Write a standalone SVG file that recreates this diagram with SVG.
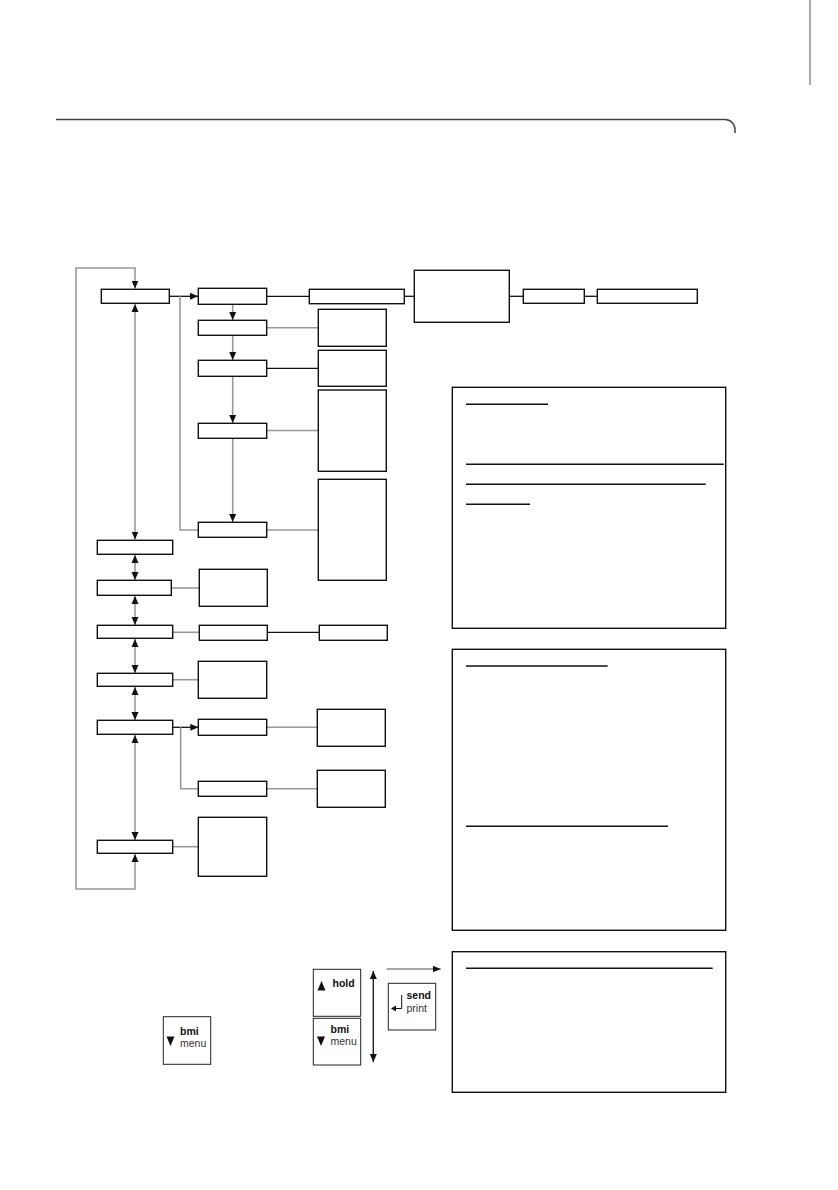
<svg xmlns="http://www.w3.org/2000/svg" width="838" height="1190" viewBox="0 0 838 1190">
<style>
.box{fill:#fff;stroke:#111;stroke-width:1.4}
.key{fill:#fff;stroke:#222;stroke-width:1}
.c{fill:none;stroke:#111;stroke-width:1.3}
.g{fill:none;stroke:#999;stroke-width:1.6}
.ul{stroke:#111;stroke-width:1.4}
.t{font-family:"Liberation Sans",Arial,sans-serif;font-size:10.5px;fill:#333}
.b{font-weight:bold;fill:#111}
</style>
<defs>
<marker id="ah" viewBox="0 0 8 8" markerUnits="userSpaceOnUse" markerWidth="8" markerHeight="8" refX="8" refY="4" orient="auto-start-reverse">
<path d="M0,0.5 L8,4 L0,7.5 z" fill="#111"/>
</marker>
</defs>
<rect width="838" height="1190" fill="#fff"/>
<line x1="810" y1="0" x2="810" y2="85" stroke="#555" stroke-width="1"/>
<path d="M56,119.5 H725 A10,10 0 0 1 735,129.5 V133" fill="none" stroke="#444" stroke-width="1.5"/>

<g id="connectors">
<path class="g" d="M135,854 V889 H76 V268 H135 V288.5" marker-start="url(#ah)" marker-end="url(#ah)"/>
<path class="g" d="M135,304 V539.5" marker-start="url(#ah)" marker-end="url(#ah)"/>
<path class="g" d="M135,555 V580" marker-start="url(#ah)" marker-end="url(#ah)"/>
<path class="g" d="M135,596 V625" marker-start="url(#ah)" marker-end="url(#ah)"/>
<path class="g" d="M135,639 V673" marker-start="url(#ah)" marker-end="url(#ah)"/>
<path class="g" d="M135,687 V720" marker-start="url(#ah)" marker-end="url(#ah)"/>
<path class="g" d="M135,735 V840" marker-start="url(#ah)" marker-end="url(#ah)"/>
<path class="c" d="M169,296.3 H198" marker-end="url(#ah)"/>
<path class="g" d="M180,296.3 V530 H198"/>
<path class="c" d="M266.7,296.3 H309.3"/>
<path class="c" d="M404.3,296.3 H414.3"/>
<path class="c" d="M509.3,296.3 H523.3"/>
<path class="c" d="M584.3,296.3 H597.3"/>
<path class="g" d="M232.7,304.5 V320" marker-end="url(#ah)"/>
<path class="g" d="M232.7,335.5 V360" marker-end="url(#ah)"/>
<path class="g" d="M232.7,376.5 V423" marker-end="url(#ah)"/>
<path class="g" d="M232.7,438.5 V522" marker-end="url(#ah)"/>
<path class="g" d="M266.7,327.8 H318.3"/>
<path class="c" d="M266.7,368.3 H318.3"/>
<path class="g" d="M266.7,430.5 H318.3"/>
<path class="g" d="M266.7,530 H318.3"/>
<path class="g" d="M171.3,588 H199.3"/>
<path class="g" d="M172.7,632.3 H199.3"/>
<path class="c" d="M267.3,632.3 H319.3"/>
<path class="g" d="M172.7,679.7 H198.3"/>
<path class="c" d="M172.7,727.3 H198.3" marker-end="url(#ah)"/>
<path class="g" d="M180.7,727.3 V788.7 H198.3"/>
<path class="g" d="M266.7,727.3 H317.3"/>
<path class="g" d="M266.7,788.7 H317.3"/>
<path class="g" d="M172.7,846.7 H198.3"/>
<path class="c" d="M373.3,971 V1062" marker-start="url(#ah)" marker-end="url(#ah)"/>
<path d="M386.7,969 H440.7" fill="none" stroke="#888" stroke-width="1.3" marker-end="url(#ah)"/>
</g>

<g id="nodeA"><rect class="box" x="101.3" y="289.3" width="68" height="14"/></g>
<g id="nodeB1"><rect class="box" x="198.3" y="288.3" width="68.4" height="16"/></g>
<g id="nodeC1"><rect class="box" x="309.3" y="289.3" width="95" height="14.4"/></g>
<g id="nodeD"><rect class="box" x="414.3" y="270.3" width="95" height="52"/></g>
<g id="nodeE"><rect class="box" x="523.3" y="289.3" width="61" height="14"/></g>
<g id="nodeF"><rect class="box" x="597.3" y="289.3" width="100" height="14"/></g>
<g id="nodeB2"><rect class="box" x="198.3" y="320.3" width="68.4" height="15"/></g>
<g id="nodeB3"><rect class="box" x="198.3" y="360.3" width="68.4" height="16"/></g>
<g id="nodeB4"><rect class="box" x="198.3" y="423.3" width="68.4" height="15"/></g>
<g id="nodeB5"><rect class="box" x="198.3" y="522.3" width="68.4" height="15"/></g>
<g id="nodeG1"><rect class="box" x="318.3" y="309.3" width="68" height="37"/></g>
<g id="nodeG2"><rect class="box" x="318.3" y="350.3" width="68" height="36"/></g>
<g id="nodeG3"><rect class="box" x="318.3" y="390" width="68" height="81.3"/></g>
<g id="nodeG4"><rect class="box" x="318.3" y="479.3" width="68" height="101"/></g>
<g id="nodeH1"><rect class="box" x="97.3" y="540.3" width="75.4" height="14"/></g>
<g id="nodeH2"><rect class="box" x="97.3" y="580.3" width="74" height="15"/></g>
<g id="nodeH3"><rect class="box" x="97.3" y="625.3" width="75.4" height="13"/></g>
<g id="nodeH4"><rect class="box" x="97.3" y="673.3" width="75.4" height="13"/></g>
<g id="nodeH5"><rect class="box" x="97.3" y="720.3" width="75.4" height="14"/></g>
<g id="nodeH6"><rect class="box" x="97.3" y="840.3" width="75.4" height="13"/></g>
<g id="nodeI1"><rect class="box" x="199.3" y="569.3" width="68" height="37"/></g>
<g id="nodeI2"><rect class="box" x="199.3" y="625.3" width="68" height="15"/></g>
<g id="nodeJ"><rect class="box" x="319.3" y="625.3" width="68" height="15"/></g>
<g id="nodeI3"><rect class="box" x="198.3" y="661.3" width="68.4" height="37"/></g>
<g id="nodeK1"><rect class="box" x="198.3" y="719.3" width="68.4" height="16"/></g>
<g id="nodeK2"><rect class="box" x="198.3" y="781.3" width="68.4" height="15"/></g>
<g id="nodeL1"><rect class="box" x="317.3" y="709.3" width="68" height="37"/></g>
<g id="nodeL2"><rect class="box" x="317.3" y="770.3" width="68" height="37"/></g>
<g id="nodeI4"><rect class="box" x="198.3" y="817.3" width="68.4" height="59"/></g>

<g id="noteP">
<rect class="box" x="452.3" y="387.3" width="273.4" height="241"/>
<line class="ul" x1="466" y1="404.3" x2="548" y2="404.3"/>
<line class="ul" x1="466" y1="464.3" x2="723.7" y2="464.3"/>
<line class="ul" x1="466" y1="484.3" x2="705.7" y2="484.3"/>
<line class="ul" x1="466" y1="504.3" x2="530" y2="504.3"/>
</g>
<g id="noteQ">
<rect class="box" x="452.3" y="649.3" width="273.4" height="281"/>
<line class="ul" x1="466" y1="666" x2="607.7" y2="666"/>
<line class="ul" x1="466" y1="826.3" x2="668" y2="826.3"/>
</g>
<g id="noteR">
<rect class="box" x="452.3" y="951.7" width="273.4" height="140.6"/>
<line class="ul" x1="466" y1="968.3" x2="712.7" y2="968.3"/>
</g>

<g id="keyBmiLeft">
<rect class="key" x="163.3" y="1016.7" width="47.4" height="47.6"/>
<path d="M166.5,1036.5 H174.5 L170.5,1046 z" fill="#111"/>
<text class="t b" x="180" y="1035">bmi</text>
<text class="t" x="180" y="1046.5">menu</text>
</g>
<g id="keyHold">
<rect class="key" x="313.3" y="969.3" width="47.4" height="47"/>
<path d="M317.5,990.5 H325.5 L321.5,981 z" fill="#111"/>
<text class="t b" x="332.5" y="986.5">hold</text>
</g>
<g id="keyBmi">
<rect class="key" x="313.3" y="1018.3" width="47.4" height="46.7"/>
<path d="M317,1036.5 H325 L321,1046 z" fill="#111"/>
<text class="t b" x="330.5" y="1033">bmi</text>
<text class="t" x="330.5" y="1045">menu</text>
</g>
<g id="keySend">
<rect class="key" x="388.3" y="983.3" width="47.4" height="46.7"/>
<path d="M401.7,995 V1008.5 H395" fill="none" stroke="#111" stroke-width="1"/>
<path d="M391,1008.5 L396,1005.5 L396,1011.5 z" fill="#111"/>
<text class="t b" x="406.5" y="999.3">send</text>
<text class="t" x="406.5" y="1012.3">print</text>
</g>
</svg>
